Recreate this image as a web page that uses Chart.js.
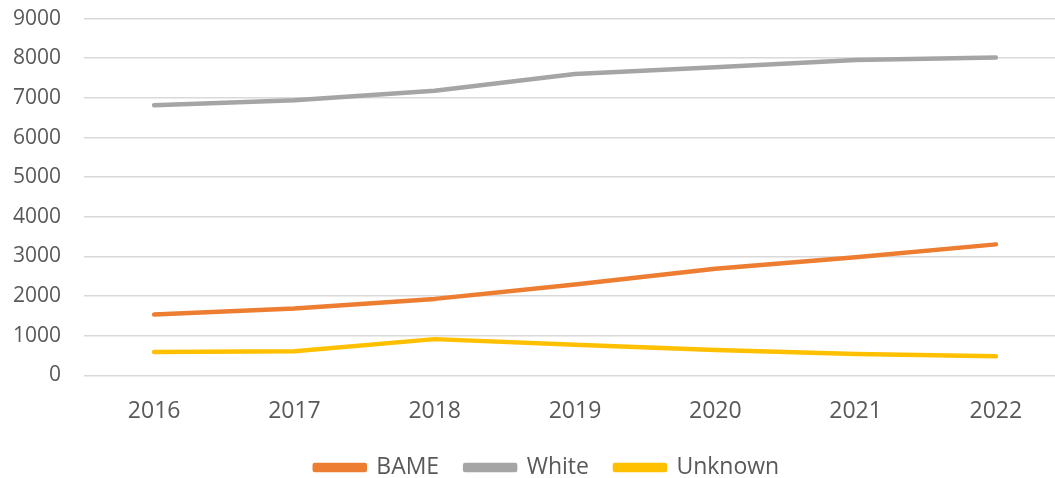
<!DOCTYPE html>
<html>
<head>
<meta charset="utf-8">
<script src="https://cdn.jsdelivr.net/npm/chart.js@4"></script>
<style>
  html, body { margin: 0; padding: 0; background: #fff; overflow: hidden; }
  #wrap { width: 1066px; height: 495px; margin-top: -17px; }
</style>
</head>
<body>
<div id="wrap"><canvas id="ethnicityChart"></canvas></div>
<script>
const years = ["2016", "2017", "2018", "2019", "2020", "2021", "2022"];
const bame = [1535, 1690, 1930, 2295, 2690, 2980, 3305];
const white = [6815, 6940, 7180, 7605, 7775, 7955, 8020];
const unknown = [590, 607, 915, 775, 640, 540, 480];
const yTicks = [0, 1000, 2000, 3000, 4000, 5000, 6000, 7000, 8000, 9000];

const fontFamily = "'Open Sans', sans-serif";
const textColor = "#595959";

const makeLine = (label, data, color) => ({
  label: label,
  data: data,
  borderColor: color,
  backgroundColor: color,
  borderWidth: 4.5,
  borderCapStyle: "round",
  borderJoinStyle: "round",
  pointRadius: 0,
  tension: 0,
});

// legend sits a little right of the canvas centre in the original
const legendShift = {
  id: "legendShift",
  afterLayout(chart) {
    chart.legend.left += 14;
    chart.legend.right += 14;
  },
};

const ctx = document.getElementById("ethnicityChart").getContext("2d");
new Chart(ctx, {
  type: "line",
  data: {
    labels: years,
    datasets: [
      makeLine("BAME", bame, "#ED7D31"),
      makeLine("White", white, "#A5A5A5"),
      makeLine("Unknown", unknown, "#FFC000"),
    ],
  },
  plugins: [legendShift],
  options: {
    responsive: true,
    maintainAspectRatio: false,
    animation: false,
    layout: { padding: { top: 0, right: 0, left: 0, bottom: -11 } },
    plugins: {
      tooltip: { enabled: false },
      legend: {
        position: "bottom",
        labels: {
          color: textColor,
          font: { family: fontFamily, size: 23 },
          boxWidth: 50,
          boxHeight: 5,
          padding: 26,
        },
      },
    },
    scales: {
      x: {
        offset: true,
        grid: { display: false, drawTicks: false },
        border: { display: false },
        afterFit: (axis) => {
          axis.height = axis.height - 17;
        },
        ticks: {
          color: textColor,
          font: { family: fontFamily, size: 23 },
          padding: 22,
        },
      },
      y: {
        min: 0,
        max: 9000,
        afterBuildTicks: (axis) => {
          axis.ticks = yTicks.map((v) => ({ value: v }));
        },
        afterFit: (axis) => {
          axis.width = 84;
        },
        grid: { color: "#D9D9D9", lineWidth: 1.5, drawTicks: false },
        border: { display: false },
        ticks: {
          color: textColor,
          font: { family: fontFamily, size: 21 },
          padding: 23,
          callback: (value) => String(value),
        },
      },
    },
  },
});
</script>
</body>
</html>
